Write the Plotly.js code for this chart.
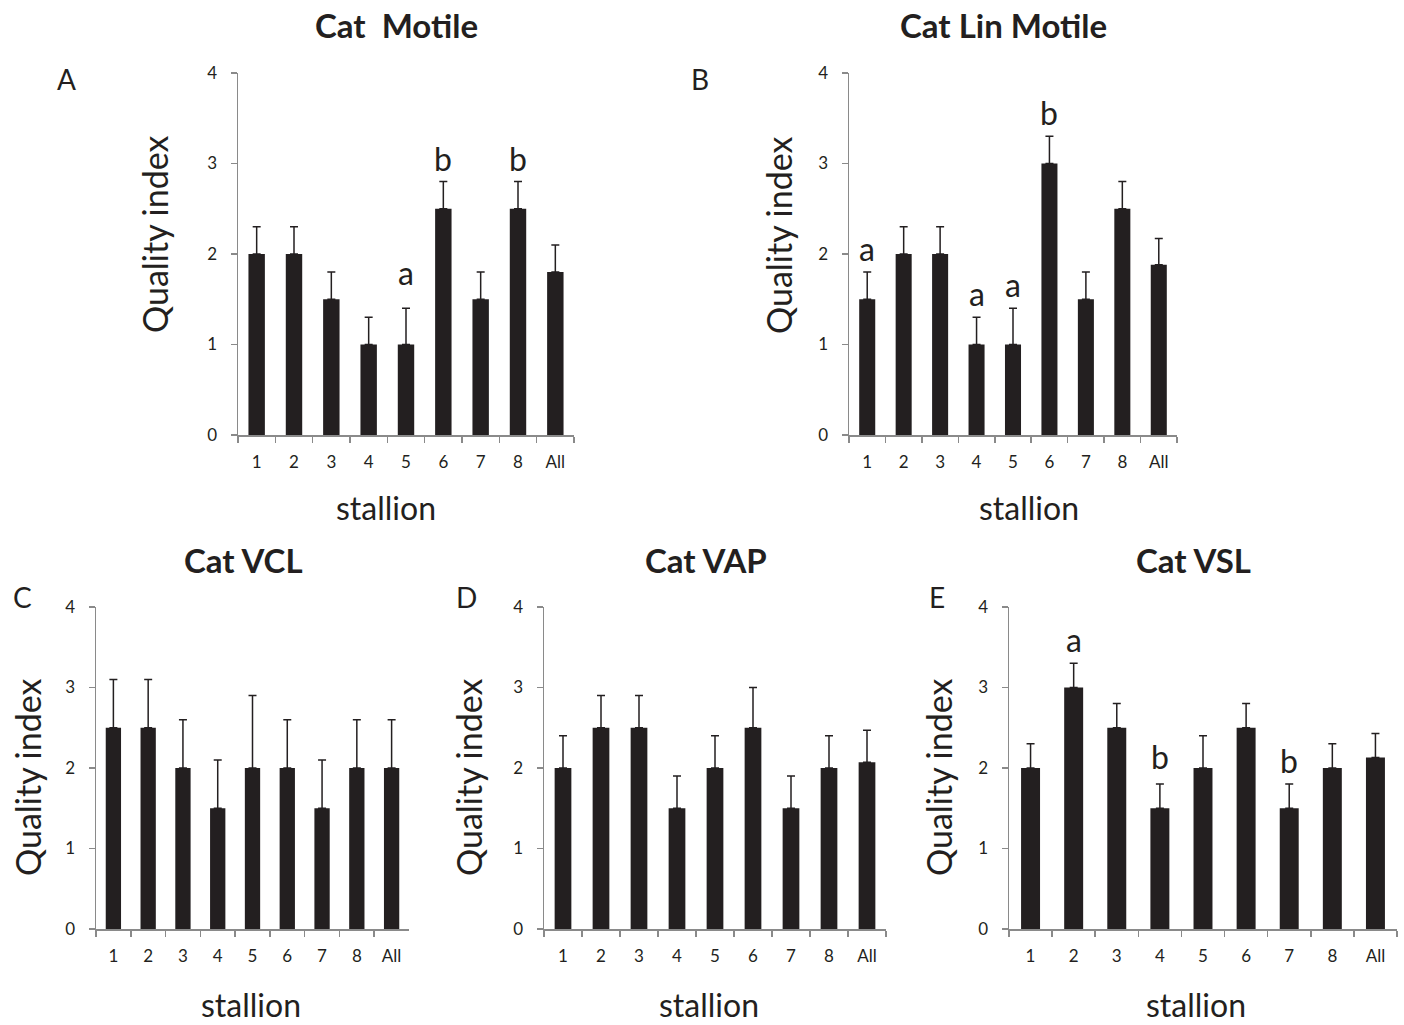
<!DOCTYPE html>
<html>
<head>
<meta charset="utf-8">
<script src="https://cdn.plot.ly/plotly-3.0.1.min.js"></script>
<style>
  html, body { margin: 0; padding: 0; background: #fff; }
  #chart { width: 1404px; height: 1025px; }
</style>
</head>
<body>
<div id="chart"></div>
<script>
// Stallion categories shared by all panels
const stallions = ['1', '2', '3', '4', '5', '6', '7', '8', 'All'];

// Panel A: Cat Motile
const motileMean = [2, 2, 1.5, 1, 1, 2.5, 1.5, 2.5, 1.8];
const motileErr = [0.3, 0.3, 0.3, 0.3, 0.4, 0.3, 0.3, 0.3, 0.3];
const motileLetters = ['', '', '', '', 'a', 'b', '', 'b', ''];

// Panel B: Cat Lin Motile
const linMotileMean = [1.5, 2, 2, 1, 1, 3, 1.5, 2.5, 1.88];
const linMotileErr = [0.3, 0.3, 0.3, 0.3, 0.4, 0.3, 0.3, 0.3, 0.29];
const linMotileLetters = ['a', '', '', 'a', 'a', 'b', '', '', ''];

// Panel C: Cat VCL
const vclMean = [2.5, 2.5, 2, 1.5, 2, 2, 1.5, 2, 2];
const vclErr = [0.6, 0.6, 0.6, 0.6, 0.9, 0.6, 0.6, 0.6, 0.6];
const vclLetters = ['', '', '', '', '', '', '', '', ''];

// Panel D: Cat VAP
const vapMean = [2, 2.5, 2.5, 1.5, 2, 2.5, 1.5, 2, 2.07];
const vapErr = [0.4, 0.4, 0.4, 0.4, 0.4, 0.5, 0.4, 0.4, 0.4];
const vapLetters = ['', '', '', '', '', '', '', '', ''];

// Panel E: Cat VSL
const vslMean = [2, 3, 2.5, 1.5, 2, 2.5, 1.5, 2, 2.13];
const vslErr = [0.3, 0.3, 0.3, 0.3, 0.4, 0.3, 0.3, 0.3, 0.3];
const vslLetters = ['', 'a', '', 'b', '', '', 'b', '', ''];

const panelTitles = ['Cat  Motile', 'Cat Lin Motile', 'Cat VCL', 'Cat VAP', 'Cat VSL'];
const panelTags = ['A', 'B', 'C', 'D', 'E'];
const yTitle = 'Quality index';
const xTitle = 'stallion';
const yTicks = [0, 1, 2, 3, 4];

const W = 1404, H = 1025;
const FONT = 'Lato, "Open Sans", sans-serif';
const BAR = '#231f20';
const AXIS = '#8a8a8a';
const TEXT = '#231f20';

// Layout of each panel in pixels: plot box, title, tag, axis-title centers,
// plus extra lift (px) for individual significance letters
const panels = [
  { mean: motileMean, err: motileErr, letters: motileLetters, lift: { 4: 12 },
    box: [238, 574, 73, 435], title: [396, 25], tag: [66, 79], yt: [155, 235], xt: [386, 507] },
  { mean: linMotileMean, err: linMotileErr, letters: linMotileLetters, lift: {},
    box: [849, 1177, 73, 435], title: [1003, 25], tag: [700, 79], yt: [779, 235], xt: [1029, 507] },
  { mean: vclMean, err: vclErr, letters: vclLetters, lift: {},
    box: [96, 409, 607, 929], title: [243, 560], tag: [22, 597], yt: [27, 778], xt: [251, 1004] },
  { mean: vapMean, err: vapErr, letters: vapLetters, lift: {},
    box: [544, 886, 607, 929], title: [706, 560], tag: [466, 597], yt: [468, 778], xt: [709, 1004] },
  { mean: vslMean, err: vslErr, letters: vslLetters, lift: { 3: 4 },
    box: [1009, 1397, 607, 929], title: [1193, 560], tag: [937, 597], yt: [938, 778], xt: [1196, 1004] }
];

const px = v => v / W;
const py = v => 1 - v / H;

const data = [];
const annotations = [];
const layout = {
  width: W, height: H,
  margin: { l: 0, r: 0, t: 0, b: 0 },
  paper_bgcolor: '#ffffff',
  plot_bgcolor: 'rgba(0,0,0,0)',
  showlegend: false,
  bargap: 0.56,
  font: { family: FONT, color: TEXT },
  annotations: annotations
};

panels.forEach((p, i) => {
  const n = i === 0 ? '' : String(i + 1);
  const xa = 'x' + n, ya = 'y' + n;

  data.push({
    type: 'bar',
    x: stallions,
    y: p.mean,
    xaxis: xa, yaxis: ya,
    marker: { color: BAR, line: { width: 0 } },
    error_y: {
      type: 'data', symmetric: false,
      array: p.err, arrayminus: p.err.map(() => 0),
      color: TEXT, thickness: 1.5, width: 4
    },
    hoverinfo: 'x+y'
  });

  layout['xaxis' + n] = {
    domain: [px(p.box[0]), px(p.box[1])],
    anchor: ya,
    type: 'category',
    showline: true, linecolor: AXIS, linewidth: 1.5,
    showgrid: false, zeroline: false,
    ticks: 'outside', tickson: 'boundaries', ticklen: 6, tickcolor: AXIS, tickwidth: 1.5,
    ticklabelstandoff: 11,
    tickfont: { family: FONT, size: 17, color: TEXT },
    fixedrange: true
  };
  layout['yaxis' + n] = {
    domain: [py(p.box[3]), py(p.box[2])],
    anchor: xa,
    range: [0, 4],
    tickvals: yTicks,
    showline: true, linecolor: AXIS, linewidth: 1.5,
    showgrid: false, zeroline: false,
    ticks: 'outside', ticklen: 6, tickcolor: AXIS, tickwidth: 1.5,
    ticklabelstandoff: 10,
    tickfont: { family: FONT, size: 17, color: TEXT },
    fixedrange: true
  };

  // Panel title
  annotations.push({
    xref: 'paper', yref: 'paper', x: px(p.title[0]), y: py(p.title[1]),
    xanchor: 'center', yanchor: 'middle', showarrow: false,
    text: '<b>' + panelTitles[i] + '</b>',
    font: { family: FONT, size: 33, color: TEXT }
  });
  // Panel tag
  annotations.push({
    xref: 'paper', yref: 'paper', x: px(p.tag[0]), y: py(p.tag[1]),
    xanchor: 'center', yanchor: 'middle', showarrow: false,
    text: panelTags[i],
    font: { family: FONT, size: 28, color: TEXT }
  });
  // Y axis title
  annotations.push({
    xref: 'paper', yref: 'paper', x: px(p.yt[0]), y: py(p.yt[1]),
    xanchor: 'center', yanchor: 'middle', showarrow: false, textangle: -90,
    text: yTitle,
    font: { family: FONT, size: 34, color: TEXT }
  });
  // X axis title
  annotations.push({
    xref: 'paper', yref: 'paper', x: px(p.xt[0]), y: py(p.xt[1]),
    xanchor: 'center', yanchor: 'middle', showarrow: false,
    text: xTitle,
    font: { family: FONT, size: 32, color: TEXT }
  });
  // Significance letters above error bars (x given as category index)
  p.letters.forEach((L, k) => {
    if (!L) return;
    annotations.push({
      xref: xa, yref: ya, x: k, y: p.mean[k] + p.err[k],
      xanchor: 'center', yanchor: 'bottom', showarrow: false,
      yshift: 2 + (p.lift[k] || 0),
      text: L,
      font: { family: FONT, size: 32, color: TEXT }
    });
  });
});

Plotly.newPlot('chart', data, layout, { displayModeBar: false, staticPlot: true });
</script>
</body>
</html>
